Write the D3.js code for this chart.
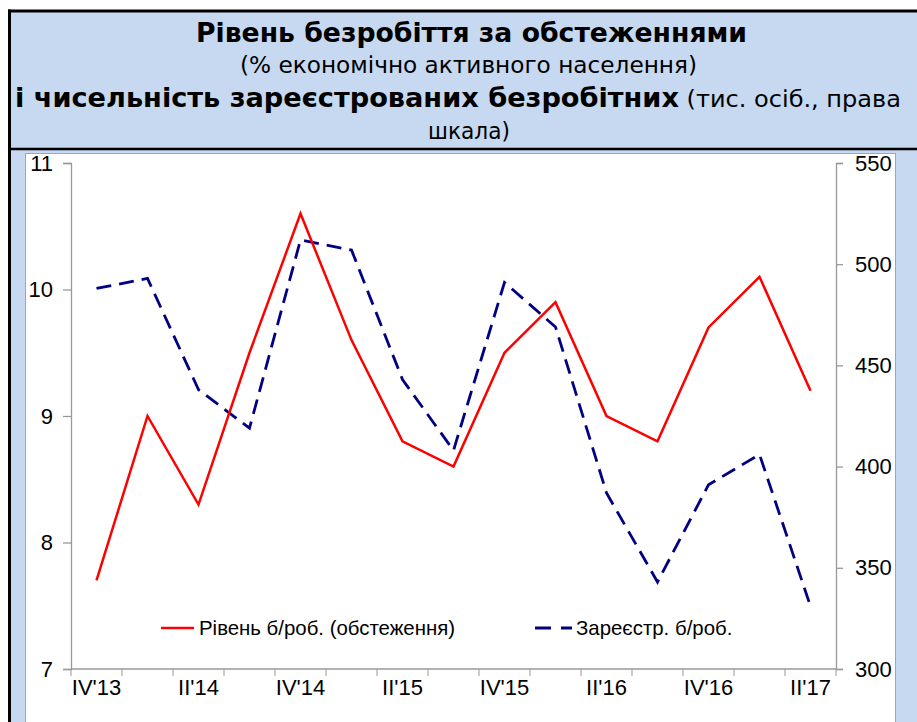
<!DOCTYPE html>
<html>
<head>
<meta charset="utf-8">
<script src="https://cdn.jsdelivr.net/npm/d3@7"></script>
<style>
html,body{margin:0;padding:0;background:#fff;}
svg{display:block;}
</style>
</head>
<body>
<svg id="chart" width="917" height="722"></svg>
<script>
const categories = ["IV'13","I'14","II'14","III'14","IV'14","I'15","II'15","III'15","IV'15","I'16","II'16","III'16","IV'16","I'17","II'17"];
const surveyRate = [7.7, 9.0, 8.3, 9.5, 10.6, 9.6, 8.8, 8.6, 9.5, 9.9, 9.0, 8.8, 9.7, 10.1, 9.2];
const registered = [488, 493, 438, 419, 512, 507, 443, 408, 491, 469, 387, 343, 391, 406, 331];
const leftTicks = [7, 8, 9, 10, 11];
const rightTicks = [300, 350, 400, 450, 500, 550];
const seriesNames = ["Рівень б/роб. (обстеження)", "Зареєстр. б/роб."];
const titleLines = [
  [{t:"Рівень безробіття за обстеженнями", b:true}],
  [{t:"(% економічно активного населення)", b:false}],
  [{t:"і чисельність зареєстрованих безробітних", b:true},{t:" (тис. осіб., права", b:false}],
  [{t:"шкала)", b:false}]
];

const svg = d3.select("#chart");
const W = 917, H = 722;

// background frame
svg.append("rect").attr("x",9.5).attr("y",11).attr("width",W).attr("height",H).attr("fill","#c6d9f1");
svg.append("line").attr("x1",9.5).attr("x2",9.5).attr("y1",9.5).attr("y2",H).attr("stroke","#000").attr("stroke-width",3);
svg.append("line").attr("x1",8).attr("x2",W).attr("y1",11).attr("y2",11).attr("stroke","#000").attr("stroke-width",3);
svg.append("line").attr("x1",8).attr("x2",W).attr("y1",149).attr("y2",149).attr("stroke","#000").attr("stroke-width",2.5);
// plot panel
svg.append("rect").attr("x",25.5).attr("y",153.5).attr("width",870).attr("height",H).attr("fill","#fff").attr("stroke","#a6a6a6").attr("stroke-width",1);

// title
const tFont = "'DejaVu Sans Condensed','DejaVu Sans',sans-serif";
const lineSpecs = [
  {y:42, x0:196, x1:747},
  {y:73, x0:240, x1:697},
  {y:107, x0:15, x1:901},
  {y:139, x0:428, x1:510}
];
const boldSize = 26, normSize = 23;
titleLines.forEach((parts,i)=>{
  const sp = lineSpecs[i];
  const txt = svg.append("text").attr("x",(sp.x0+sp.x1)/2).attr("y",sp.y)
    .attr("text-anchor","middle").attr("font-family",tFont).attr("fill","#000");
  const spans = parts.map(p=>txt.append("tspan").text(p.t)
      .attr("font-weight",p.b?"bold":"normal")
      .attr("font-size",(p.b?boldSize:normSize)+"px"));
  const lens = spans.map(s=>s.node().getComputedTextLength());
  const total = d3.sum(lens);
  const k = (sp.x1-sp.x0)/total;
  spans.forEach((s,j)=>{
    s.attr("textLength", lens[j]*k).attr("lengthAdjust","spacingAndGlyphs");
  });
});

// scales
const x = d3.scaleBand().domain(categories).range([71,836]);
const cx = d => x(d) + x.bandwidth()/2;
const yL = d3.scaleLinear().domain([7,11]).range([669,163]);
const yR = d3.scaleLinear().domain([300,550]).range([669,163]);
const axisColor = "#999";
const aFont = "'Liberation Sans',Arial,sans-serif";

// left axis
const gL = svg.append("g").attr("transform","translate(71,0)")
  .call(d3.axisLeft(yL).tickValues(leftTicks).tickSize(8).tickPadding(10).tickFormat(d3.format("d")));
// right axis
const gR = svg.append("g").attr("transform","translate(836,0)")
  .call(d3.axisRight(yR).tickValues(rightTicks).tickSize(7).tickPadding(12).tickFormat(d3.format("d")));
// bottom axis (labels at category centers, every second)
const gB = svg.append("g").attr("transform","translate(0,669)")
  .call(d3.axisBottom(x).tickSize(0).tickPadding(26)
    .tickFormat((d,i)=> i%2===0 ? d : ""));
// boundary ticks on x axis
const bounds = categories.map(c=>x(c)).concat([x.range()[1]]);
svg.append("g").selectAll("line").data(bounds).join("line")
  .attr("x1",d=>d).attr("x2",d=>d).attr("y1",669).attr("y2",676)
  .attr("stroke",axisColor).attr("stroke-width",1);

[gL,gR,gB].forEach(g=>{
  g.selectAll(".domain").attr("stroke",axisColor).attr("stroke-width",1.3);
  g.selectAll(".tick line").attr("stroke",axisColor).attr("stroke-width",1.3);
  g.selectAll("text").attr("font-family",aFont).attr("font-size","22px").attr("fill","#000");
});
gB.select(".domain").attr("d","M71,0H836");
gB.selectAll("text").attr("dy","0");

// lines
const lineL = d3.line().x((d,i)=>cx(categories[i])).y(d=>yL(d));
const lineR = d3.line().x((d,i)=>cx(categories[i])).y(d=>yR(d));
svg.append("path").datum(registered).attr("d",lineR).attr("fill","none")
  .attr("stroke","#000080").attr("stroke-width",2.8).attr("stroke-dasharray","15,8");
svg.append("path").datum(surveyRate).attr("d",lineL).attr("fill","none")
  .attr("stroke","#ff0000").attr("stroke-width",2.5);

// legend
const lg = svg.append("g");
lg.append("line").attr("x1",161).attr("x2",194).attr("y1",628).attr("y2",628)
  .attr("stroke","#ff0000").attr("stroke-width",2.5);
lg.append("text").attr("x",199).attr("y",635).text(seriesNames[0])
  .attr("font-family",aFont).attr("font-size","20.4px").attr("fill","#000");
lg.append("line").attr("x1",535).attr("x2",572).attr("y1",628).attr("y2",628)
  .attr("stroke","#000080").attr("stroke-width",2.8).attr("stroke-dasharray","16,10");
lg.append("text").attr("x",576).attr("y",635).text(seriesNames[1])
  .attr("font-family",aFont).attr("font-size","20.4px").attr("fill","#000");
</script>
</body>
</html>
